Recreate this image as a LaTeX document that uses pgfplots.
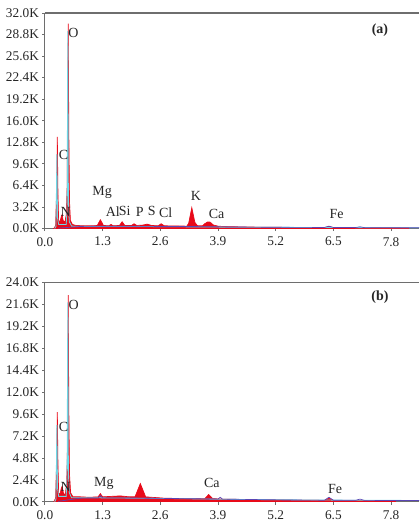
\documentclass[border=0pt]{standalone}
\usepackage{pgfplots}
\pgfplotsset{compat=1.18}
\usepackage{fontspec}
\setmainfont{Liberation Serif}
\definecolor{edsred}{RGB}{232,10,25}
\definecolor{edscyan}{RGB}{110,215,230}
\definecolor{edsblue}{RGB}{90,70,180}
\definecolor{frame}{RGB}{110,110,110}
\tikzset{lbl/.style={font=\fontsize{10.5}{12}\selectfont, text=black!85, inner sep=0pt}}
\pgfplotsset{
  eds/.style={
    scale only axis, width=281.25pt,
    xmin=0, xmax=8.43, ymin=0,
    axis x line=box, axis y line=left,
    axis line style={frame, line width=0.9pt},
    y axis line style={-},
    xtick pos=bottom, ytick pos=left,
    tick align=outside, major tick length=2pt,
    tick style={frame, line width=0.6pt},
    xtick={0,1.3,2.6,3.9,5.2,6.5,7.8},
    xticklabels={0.0,1.3,2.6,3.9,5.2,6.5,7.8},
    ticklabel style={font=\fontsize{10}{12}\selectfont, text=black!85},
    xticklabel style={yshift=-1pt},
    yticklabel style={xshift=1pt},
    clip=true,
  },
}
\begin{document}
\begin{tikzpicture}
\path (-33.75pt,-221.25pt) (281.25pt,171.75pt);
% ---------- panel (a)
\begin{axis}[eds, height=162pt, ymax=32,
  ytick={0,3.2,6.4,9.6,12.8,16,19.2,22.4,25.6,28.8,32},
  yticklabels={0.0K,3.2K,6.4K,9.6K,12.8K,16.0K,19.2K,22.4K,25.6K,28.8K,32.0K}]
\addplot[fill=edsred, draw=edsred, line width=0.5pt] coordinates {
(0.20,0) (0.24,0.4) (0.262,5) (0.28,13.6) (0.295,5) (0.31,1.2) (0.34,1.0) (0.37,1.8) (0.39,2.1)
(0.41,1.2) (0.45,0.9) (0.48,2.0) (0.50,6) (0.512,16) (0.525,30.4) (0.54,14) (0.555,4) (0.575,1.2)
(0.62,0.6) (0.7,0.45) (0.9,0.4) (1.1,0.4)
(1.18,0.45) (1.25,1.3) (1.32,0.45) (1.44,0.4) (1.49,0.6) (1.54,0.4) (1.68,0.45) (1.74,1.0)
(1.80,0.45) (1.95,0.45) (2.01,0.7) (2.07,0.45) (2.2,0.5) (2.31,0.65) (2.4,0.45) (2.55,0.4)
(2.62,0.7) (2.69,0.4) (3.2,0.35) (3.24,0.8) (3.31,3.1) (3.38,0.9) (3.44,0.4) (3.55,0.4)
(3.6,0.7) (3.66,0.95) (3.72,0.95) (3.8,0.5) (3.9,0.35) (4.0,0.3) (4.5,0.22) (5.5,0.16)
(6.3,0.13) (6.4,0.3) (6.5,0.13) (7.5,0.11) (8.2,0.09) (8.2,0)} \closedcycle;
\addplot[edscyan, line width=0.6pt] coordinates {
(0.22,0) (0.25,0.3) (0.27,11.0) (0.285,1.5) (0.31,0.6) (0.40,0.6) (0.48,0.6) (0.50,3)
(0.516,29.3) (0.53,4) (0.55,1.0) (0.6,0.35) (1.0,0.3) (2.0,0.3) (3.0,0.25) (4.0,0.2) (6.0,0.15) (8.43,0.1)};
\addplot[edsblue, line width=0.5pt] coordinates {
(0.3,0.05) (0.5,0.15) (0.8,0.3) (1.2,0.33) (1.8,0.33) (2.6,0.3) (3.5,0.28) (4.2,0.22)
(5.5,0.17) (6.3,0.15) (6.4,0.35) (6.5,0.15) (7.0,0.14) (7.1,0.25) (7.2,0.13) (8.43,0.11)};
\node[lbl, anchor=south west] at (axis cs:0.31,10.2) {C};
\node[lbl] at (axis cs:0.47,2.5) {N};
\node[lbl] at (axis cs:0.64,29.0) {O};
\node[lbl] at (axis cs:1.29,5.3) {Mg};
\node[lbl] at (axis cs:1.53,2.5) {Al};
\node[lbl] at (axis cs:1.80,2.6) {Si};
\node[lbl] at (axis cs:2.14,2.5) {P};
\node[lbl] at (axis cs:2.41,2.6) {S};
\node[lbl] at (axis cs:2.72,2.4) {Cl};
\node[lbl] at (axis cs:3.40,4.8) {K};
\node[lbl] at (axis cs:3.87,2.2) {Ca};
\node[lbl] at (axis cs:6.57,2.1) {Fe};
\node[lbl, font=\fontsize{10.5}{12}\selectfont\bfseries] at (axis cs:7.55,29.5) {(a)};
\end{axis}
% ---------- panel (b)
\begin{axis}[eds, yshift=-205.5pt, height=165pt, ymax=24,
  ytick={0,2.4,4.8,7.2,9.6,12,14.4,16.8,19.2,21.6,24},
  yticklabels={0.0K,2.4K,4.8K,7.2K,9.6K,12.0K,14.4K,16.8K,19.2K,21.6K,24.0K}]
\addplot[fill=edsred, draw=edsred, line width=0.5pt] coordinates {
(0.20,0) (0.24,0.4) (0.262,4) (0.28,9.8) (0.295,4) (0.31,1.0) (0.34,0.8) (0.37,1.5) (0.39,1.7)
(0.42,0.9) (0.46,0.8) (0.49,2.0) (0.505,5) (0.515,12) (0.525,22.6) (0.54,10) (0.555,3) (0.58,1.0)
(0.63,0.55) (0.8,0.55) (1.0,0.5) (1.2,0.55) (1.25,0.9) (1.3,0.55) (1.5,0.6) (1.7,0.65)
(1.9,0.55) (2.03,0.55) (2.15,2.0) (2.27,0.55) (2.4,0.5) (2.7,0.4) (3.2,0.35) (3.6,0.35)
(3.69,0.8) (3.78,0.35) (4.0,0.3) (5.0,0.22) (6.3,0.16) (6.4,0.4) (6.5,0.16) (7.9,0.12) (7.9,0)} \closedcycle;
\addplot[edscyan, line width=0.6pt] coordinates {
(0.22,0) (0.25,0.3) (0.27,8.4) (0.285,1.5) (0.31,0.6) (0.40,0.6) (0.48,0.6) (0.50,3)
(0.516,21.8) (0.53,3) (0.55,1.0) (0.6,0.45) (1.0,0.45) (2.0,0.4) (3.0,0.35) (4.0,0.28) (6.0,0.2) (8.43,0.15)};
\addplot[edsblue, line width=0.5pt] coordinates {
(0.3,0.05) (0.5,0.2) (0.8,0.4) (1.2,0.43) (1.25,0.7) (1.3,0.43) (1.8,0.43) (2.6,0.38)
(3.5,0.33) (3.9,0.3) (3.95,0.5) (4.0,0.3) (5.5,0.2) (6.3,0.18) (6.4,0.5) (6.5,0.18)
(7.0,0.17) (7.1,0.3) (7.2,0.16) (8.43,0.14)};
\node[lbl, anchor=south west] at (axis cs:0.31,7.6) {C};
\node[lbl] at (axis cs:0.47,1.6) {N};
\node[lbl] at (axis cs:0.65,21.5) {O};
\node[lbl] at (axis cs:1.33,2.0) {Mg};
\node[lbl] at (axis cs:3.76,2.1) {Ca};
\node[lbl] at (axis cs:6.54,1.4) {Fe};
\node[lbl, font=\fontsize{10.5}{12}\selectfont\bfseries] at (axis cs:7.55,22.4) {(b)};
\end{axis}
\end{tikzpicture}
\end{document}
